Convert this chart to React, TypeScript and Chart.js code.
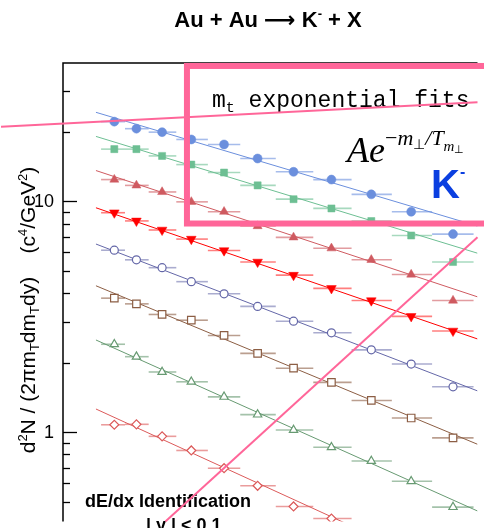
import React, { useEffect, useRef } from 'react';
import { Chart, registerables } from 'chart.js';

Chart.register(...registerables);

// m_T - m0 binning (GeV/c^2): bin edges and plotted bin centres
const binEdges = [0.0965, 0.157, 0.217, 0.287, 0.367, 0.449, 0.539, 0.634, 0.731, 0.833, 0.935, 1.04];
const mtCenters = [0.13, 0.186, 0.251, 0.325, 0.408, 0.493, 0.584, 0.68, 0.781, 0.882, 0.988];

// invariant yields per centrality class (scaled spectra, c^4/GeV^2)
const yieldFilledCircle = [22.1, 20.6, 19.9, 18.5, 17.6, 15.3, 13.4, 12.4, 10.7, 9.0, 7.2];
const yieldFilledSquare = [16.8, 16.8, 15.7, 14.4, 13.3, 11.7, 10.2, 9.3, 8.2, 7.1, 5.45];
const yieldFilledTriUp = [12.4, 11.7, 10.96, 9.93, 9.0, 7.8, 6.97, 6.25, 5.57, 4.81, 3.71];
const yieldFilledTriDown = [8.91, 8.21, 7.5, 6.85, 6.11, 5.45, 4.78, 4.19, 3.71, 3.17, 2.74];
const yieldOpenCircle = [6.13, 5.57, 5.15, 4.48, 3.97, 3.5, 3.02, 2.69, 2.27, 1.97, 1.57];
const yieldOpenSquare = [3.8, 3.59, 3.23, 3.05, 2.62, 2.19, 1.89, 1.64, 1.37, 1.15, 0.943];
const yieldOpenTriUp = [2.4, 2.12, 1.82, 1.65, 1.42, 1.19, 1.02, 0.859, 0.749, 0.612, 0.473];
const yieldOpenDiamond = [1.075, 1.08, 0.958, 0.832, 0.697, 0.585, 0.476, 0.422];

// exponential fits: yield at the start and end of the fit range
const fitMtRange = [0.0835, 1.05];
const fitFilledCircle = [24.25, 7.8];
const fitFilledSquare = [19.07, 5.95];
const fitFilledTriUp = [13.57, 3.85];
const fitFilledTriDown = [9.36, 2.53];
const fitOpenCircle = [6.52, 1.507];
const fitOpenSquare = [4.3, 0.885];
const fitOpenTriUp = [2.504, 0.455];
const fitOpenDiamond = [1.258, 0.2204];

// axes
const xRange = [0, 1.05];
const yRange = [0.4097, 39.66];
const yMajorTicks = [1, 10];
const yMajorLabels = ['1', '10'];
const yMinorTicks = [0.5, 0.6, 0.7, 0.8, 0.9, 2, 3, 4, 5, 6, 7, 8, 9, 20, 30];

// highlight strokes (data coordinates)
const fitsBoxX = [0.314, 1.08];
const fitsBoxY = [38.5, 8.0];
const strokeAX = [-0.157, 1.05];
const strokeAY = [20.98, 26.83];
const strokeBX = [0.2594, 1.05];
const strokeBY = [0.4097, 6.97];

type Series = {
  values: number[];
  fit: number[];
  color: string;
  bar: string;
  style: string;
  rotation: number;
  radius: number;
  filled: boolean;
};

const series: Series[] = [
  { values: yieldFilledCircle, fit: fitFilledCircle, color: '#6b8fdd', bar: 'rgba(107,143,221,0.6)', style: 'circle', rotation: 0, radius: 4.5, filled: true },
  { values: yieldFilledSquare, fit: fitFilledSquare, color: '#6dbf93', bar: 'rgba(109,191,147,0.6)', style: 'rect', rotation: 0, radius: 5, filled: true },
  { values: yieldFilledTriUp, fit: fitFilledTriUp, color: '#cf5a60', bar: 'rgba(207,90,96,0.6)', style: 'triangle', rotation: 0, radius: 5.2, filled: true },
  { values: yieldFilledTriDown, fit: fitFilledTriDown, color: '#ff0000', bar: 'rgba(255,40,40,0.6)', style: 'triangle', rotation: 180, radius: 5.6, filled: true },
  { values: yieldOpenCircle, fit: fitOpenCircle, color: '#6467a8', bar: 'rgba(100,103,168,0.55)', style: 'circle', rotation: 0, radius: 4, filled: false },
  { values: yieldOpenSquare, fit: fitOpenSquare, color: '#8c5e44', bar: 'rgba(140,94,68,0.6)', style: 'rect', rotation: 0, radius: 5.3, filled: false },
  { values: yieldOpenTriUp, fit: fitOpenTriUp, color: '#679a72', bar: 'rgba(103,154,114,0.6)', style: 'triangle', rotation: 0, radius: 4.8, filled: false },
  { values: yieldOpenDiamond, fit: fitOpenDiamond, color: '#dc5a5a', bar: 'rgba(220,90,90,0.6)', style: 'rectRot', rotation: 0, radius: 4.5, filled: false },
];

const PINK = '#ff6699';
const SANS = '"Liberation Sans", Arial, Helvetica, sans-serif';
const SERIF = '"Liberation Serif", "Times New Roman", serif';
const MONO = '"Liberation Mono", "Courier New", monospace';

type Seg = { t: string; font: string; dy?: number; color?: string };

function drawRich(ctx: CanvasRenderingContext2D, segs: Seg[], x: number, y: number, align: 'left' | 'center' | 'right', color: string) {
  let total = 0;
  for (const s of segs) {
    ctx.font = s.font;
    total += ctx.measureText(s.t).width;
  }
  let cx = align === 'left' ? x : align === 'center' ? x - total / 2 : x - total;
  ctx.textAlign = 'left';
  ctx.textBaseline = 'alphabetic';
  for (const s of segs) {
    ctx.font = s.font;
    ctx.fillStyle = s.color || color;
    ctx.fillText(s.t, cx, y + (s.dy || 0));
    cx += ctx.measureText(s.t).width;
  }
}

const overlayPlugin = {
  id: 'overlay',
  beforeDatasetsDraw(chart: any) {
    const { ctx, scales } = chart;
    const xs = scales.x;
    const ys = scales.y;
    ctx.save();
    ctx.lineWidth = 1.6;
    series.forEach((s) => {
      ctx.strokeStyle = s.bar;
      s.values.forEach((v, j) => {
        const py = ys.getPixelForValue(v);
        ctx.beginPath();
        ctx.moveTo(xs.getPixelForValue(binEdges[j]), py);
        ctx.lineTo(xs.getPixelForValue(binEdges[j + 1]), py);
        ctx.stroke();
      });
    });
    ctx.restore();
  },
  afterDatasetsDraw(chart: any) {
    const { ctx, scales, chartArea } = chart;
    const xs = scales.x;
    const ys = scales.y;
    const { left, top, right, bottom } = chartArea;
    ctx.save();

    // frame: top edge and left axis
    ctx.strokeStyle = '#000';
    ctx.lineWidth = 1.5;
    ctx.beginPath();
    ctx.moveTo(right, top);
    ctx.lineTo(left, top);
    ctx.lineTo(left, bottom);
    ctx.stroke();

    // inward ticks
    ctx.lineWidth = 1.3;
    yMajorTicks.forEach((v) => {
      const py = Math.round(ys.getPixelForValue(v)) + 0.5;
      ctx.beginPath();
      ctx.moveTo(left, py);
      ctx.lineTo(left + 14, py);
      ctx.stroke();
    });
    yMinorTicks.forEach((v) => {
      const py = Math.round(ys.getPixelForValue(v)) + 0.5;
      ctx.beginPath();
      ctx.moveTo(left, py);
      ctx.lineTo(left + 7, py);
      ctx.stroke();
    });

    // tick labels
    ctx.fillStyle = '#000';
    ctx.font = `18px ${SANS}`;
    ctx.textAlign = 'right';
    ctx.textBaseline = 'middle';
    yMajorTicks.forEach((v, i) => {
      ctx.fillText(yMajorLabels[i], left - 9, ys.getPixelForValue(v) + 1);
    });

    // y-axis title
    ctx.save();
    ctx.translate(35, 310);
    ctx.rotate(-Math.PI / 2);
    const f = `21px ${SANS}`;
    const fs = `13px ${SANS}`;
    drawRich(
      ctx,
      [
        { t: 'd', font: f },
        { t: '2', font: fs, dy: -8 },
        { t: 'N / (2\u03c0m', font: f },
        { t: 'T', font: fs, dy: 4 },
        { t: 'dm', font: f },
        { t: 'T', font: fs, dy: 4 },
        { t: 'dy)    (c', font: f },
        { t: '4', font: fs, dy: -8 },
        { t: '/GeV', font: f },
        { t: '2', font: fs, dy: -8 },
        { t: ')', font: f },
      ],
      0,
      0,
      'center',
      '#000'
    );
    ctx.restore();

    // title
    drawRich(
      ctx,
      [
        { t: 'Au + Au ', font: `bold 22px ${SANS}` },
        { t: '\u27f6', font: `bold 22px "DejaVu Sans", ${SANS}` },
        { t: ' K', font: `bold 22px ${SANS}` },
        { t: '-', font: `bold 13px ${SANS}`, dy: -9 },
        { t: ' + X', font: `bold 22px ${SANS}` },
      ],
      268,
      27,
      'center',
      '#000'
    );

    // selection notes
    ctx.font = `bold 18px ${SANS}`;
    ctx.fillStyle = '#000';
    ctx.textAlign = 'left';
    ctx.textBaseline = 'alphabetic';
    ctx.fillText('dE/dx Identification', 85, 507);
    ctx.fillText('| y | < 0.1', 146, 531);

    // fit annotation
    drawRich(
      ctx,
      [
        { t: 'm', font: `23px ${MONO}` },
        { t: 't', font: `15px ${MONO}`, dy: 5 },
        { t: ' exponential fits', font: `23px ${MONO}` },
      ],
      212,
      107,
      'left',
      '#000'
    );
    drawRich(
      ctx,
      [
        { t: 'Ae', font: `italic 36px ${SERIF}` },
        { t: '\u2212', font: `22px ${SERIF}`, dy: -17 },
        { t: 'm', font: `italic 22px ${SERIF}`, dy: -17 },
        { t: '\u22a5', font: `14px ${SERIF}`, dy: -13 },
        { t: '/', font: `italic 22px ${SERIF}`, dy: -17 },
        { t: 'T', font: `italic 22px ${SERIF}`, dy: -17 },
        { t: 'm', font: `italic 15px ${SERIF}`, dy: -11 },
        { t: '\u22a5', font: `11px ${SERIF}`, dy: -9 },
      ],
      347,
      162,
      'left',
      '#000'
    );
    drawRich(
      ctx,
      [
        { t: 'K', font: `bold 40px ${SANS}` },
        { t: '-', font: `bold 16px ${SANS}`, dy: -21 },
      ],
      431,
      198,
      'left',
      '#0b3fe0'
    );

    // pink highlight strokes
    ctx.strokeStyle = PINK;
    ctx.lineWidth = 2;
    ctx.beginPath();
    ctx.moveTo(xs.getPixelForValue(strokeAX[0]), ys.getPixelForValue(strokeAY[0]));
    ctx.lineTo(xs.getPixelForValue(strokeAX[1]), ys.getPixelForValue(strokeAY[1]));
    ctx.stroke();
    ctx.beginPath();
    ctx.moveTo(xs.getPixelForValue(strokeBX[0]), ys.getPixelForValue(strokeBY[0]));
    ctx.lineTo(xs.getPixelForValue(strokeBX[1]), ys.getPixelForValue(strokeBY[1]));
    ctx.stroke();
    ctx.lineWidth = 6;
    const bx0 = xs.getPixelForValue(fitsBoxX[0]);
    const bx1 = xs.getPixelForValue(fitsBoxX[1]);
    const by0 = ys.getPixelForValue(fitsBoxY[0]);
    const by1 = ys.getPixelForValue(fitsBoxY[1]);
    ctx.strokeRect(bx0, by0, bx1 - bx0, by1 - by0);

    ctx.restore();
  },
};

export default function App() {
  const canvasRef = useRef<HTMLCanvasElement | null>(null);

  useEffect(() => {
    const canvas = canvasRef.current;
    if (!canvas) return;

    const datasets: any[] = [];
    series.forEach((s) => {
      datasets.push({
        data: s.values.map((v, i) => ({ x: mtCenters[i], y: v })),
        showLine: false,
        pointStyle: s.style,
        rotation: s.rotation,
        pointRadius: s.radius,
        pointBackgroundColor: s.filled ? s.color : '#ffffff',
        pointBorderColor: s.color,
        pointBorderWidth: s.filled ? 0.5 : 1.2,
        order: 1,
      });
      datasets.push({
        data: fitMtRange.map((x, i) => ({ x, y: s.fit[i] })),
        showLine: true,
        borderColor: s.color,
        borderWidth: 1,
        pointRadius: 0,
        order: 2,
      });
    });

    const chart = new Chart(canvas, {
      type: 'scatter',
      data: { datasets },
      options: {
        responsive: false,
        animation: false,
        devicePixelRatio: 1,
        events: [],
        layout: { padding: { left: 63, top: 63, right: 0, bottom: 0 } },
        plugins: {
          legend: { display: false },
          tooltip: { enabled: false },
        },
        scales: {
          x: { type: 'linear', display: false, min: xRange[0], max: xRange[1], bounds: 'data' },
          y: { type: 'logarithmic', display: false, min: yRange[0], max: yRange[1], bounds: 'data' },
        },
      },
      plugins: [overlayPlugin],
    } as any);

    return () => chart.destroy();
  }, []);

  return (
    <div style={{ position: 'fixed', left: 0, top: 0, width: 484, height: 528, overflow: 'hidden', background: '#fff' }}>
      <canvas ref={canvasRef} width={484} height={528} style={{ display: 'block' }} />
    </div>
  );
}
